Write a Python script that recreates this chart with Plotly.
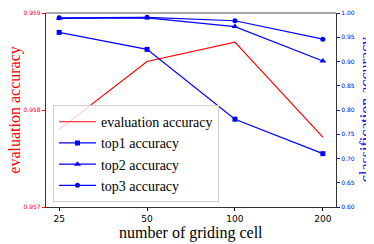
import math
import plotly.graph_objects as go

cells = [25, 50, 100, 200]
eval_acc = [0.95780, 0.95850, 0.95870, 0.95772]
top1 = [0.960, 0.925, 0.781, 0.710]
top2 = [0.989, 0.990, 0.972, 0.901]
top3 = [0.990, 0.991, 0.984, 0.946]
left_ticks = [0.957, 0.958, 0.959]
right_ticks = [0.60, 0.65, 0.70, 0.75, 0.80, 0.85, 0.90, 0.95, 1.00]

BLUE = "#0000ff"
RED = "#ff0000"
serif = "Liberation Serif, Times New Roman, serif"
sans = "DejaVu Sans, sans-serif"

fig = go.Figure()
fig.add_trace(go.Scatter(x=cells, y=eval_acc, mode="lines", name="evaluation accuracy",
                         line=dict(color=RED, width=1.2), yaxis="y"))
fig.add_trace(go.Scatter(x=cells, y=top1, mode="lines+markers", name="top1 accuracy",
                         line=dict(color=BLUE, width=1.2),
                         marker=dict(symbol="square", size=5, color=BLUE), yaxis="y2"))
fig.add_trace(go.Scatter(x=cells, y=top2, mode="lines+markers", name="top2 accuracy",
                         line=dict(color=BLUE, width=1.2),
                         marker=dict(symbol="triangle-up", size=6, color=BLUE), yaxis="y2"))
fig.add_trace(go.Scatter(x=cells, y=top3, mode="lines+markers", name="top3 accuracy",
                         line=dict(color=BLUE, width=1.2),
                         marker=dict(symbol="circle", size=5, color=BLUE), yaxis="y2"))

lo = math.log10(25) - 0.15 * math.log10(2)
hi = math.log10(200) + 0.15 * math.log10(2)

fig.update_layout(
    width=366, height=236,
    margin=dict(l=38, r=38, t=5, b=37, autoexpand=False),
    paper_bgcolor="white", plot_bgcolor="white",
    showlegend=True,
    legend=dict(x=0.024, y=0.025, xanchor="left", yanchor="bottom",
                bgcolor="rgba(255,255,255,0.8)", bordercolor="#d0d0d0", borderwidth=1,
                font=dict(family=serif, size=14, color="black"),
                itemwidth=37),
    xaxis=dict(type="log", range=[lo, hi], tickvals=cells, ticktext=[str(c) for c in cells],
               ticks="outside", ticklen=3, tickcolor="black",
               tickfont=dict(family=sans, size=9, color="black"),
               showgrid=False, zeroline=False,
               showline=True, linecolor="#333333", linewidth=1.2),
    yaxis=dict(range=[0.957, 0.959], tickvals=left_ticks, ticktext=[f"{v:.3f}" for v in left_ticks],
               ticks="outside", ticklen=3, tickcolor=RED,
               tickfont=dict(family=sans, size=6, color=RED),
               showgrid=False, zeroline=False,
               showline=True, linecolor="#333333", linewidth=1.2),
    yaxis2=dict(range=[0.60, 1.00], tickvals=right_ticks, ticktext=[f"{v:.2f}" for v in right_ticks],
                overlaying="y", side="right",
                ticks="outside", ticklen=3, tickcolor=BLUE,
                tickfont=dict(family=sans, size=6, color=BLUE),
                showgrid=False, zeroline=False,
                showline=True, linecolor="#333333", linewidth=1.2),
    shapes=[dict(type="line", xref="paper", yref="paper", x0=0, x1=1, y0=1, y1=1,
                 line=dict(color="#888888", width=1.5))],
    annotations=[
        dict(text="number of griding cell", xref="paper", yref="paper", x=0.5, y=-0.134,
             xanchor="center", yanchor="middle", showarrow=False,
             font=dict(family=serif, size=16, color="black")),
        dict(text="evaluation accuracy", xref="paper", yref="paper", x=-0.108, y=0.5,
             xanchor="center", yanchor="middle", textangle=-90, showarrow=False,
             font=dict(family=serif, size=16, color=RED)),
        dict(text="classification accuracy", xref="paper", yref="paper", x=1.104, y=0.5,
             xanchor="center", yanchor="middle", textangle=-90, showarrow=False,
             font=dict(family=serif, size=16, color=BLUE)),
    ],
)

fig.write_html("out.html")
